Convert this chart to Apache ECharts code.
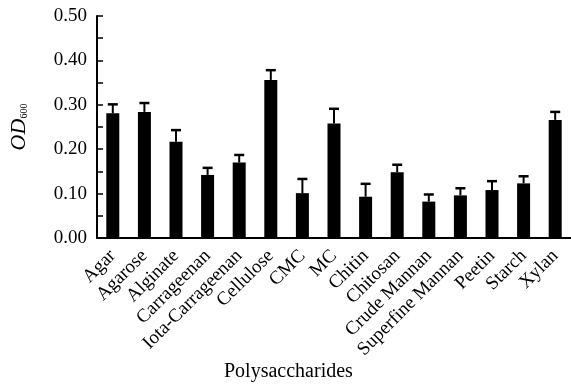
<!DOCTYPE html>
<html><head><meta charset="utf-8">
<script src="https://cdn.jsdelivr.net/npm/echarts@6/dist/echarts.min.js"></script>
<style>html,body{margin:0;padding:0;background:#fff}#c{width:571px;height:385px}</style>
</head><body><div id="c"></div>
<script>
const categories = ['Agar','Agarose','Alginate','Carrageenan','Iota-Carrageenan','Cellulose','CMC','MC','Chitin','Chitosan','Crude Mannan','Superfine Mannan','Peetin','Starch','Xylan'];
const values = [0.281,0.284,0.217,0.142,0.170,0.356,0.101,0.258,0.093,0.148,0.082,0.096,0.108,0.123,0.266];
const errors = [0.020,0.020,0.026,0.016,0.017,0.022,0.032,0.033,0.029,0.017,0.016,0.016,0.020,0.016,0.018];
const yTickLabels = ['0.00', '0.10', '0.20', '0.30', '0.40', '0.50'];

const chart = echarts.init(document.getElementById('c'));
const font = 'Liberation Serif';
chart.setOption({
  animation: false,
  grid: {left: 90, top: 16, width: 483, height: 222},
  xAxis: {
    type: 'category', data: categories,
    axisLine: {lineStyle: {color: '#000', width: 2}},
    axisTick: {show: false},
    axisLabel: {rotate: 45, interval: 0, color: '#000', fontFamily: font, fontSize: 19, margin: 15}
  },
  yAxis: {
    type: 'value', min: 0, max: 0.5, interval: 0.05,
    axisLine: {show: true, lineStyle: {color: '#000', width: 2}},
    axisTick: {show: true, inside: true, length: 6, lineStyle: {color: '#000', width: 1.5}},
    splitLine: {show: false},
    axisLabel: {color: '#000', fontFamily: font, fontSize: 19, margin: 10,
      formatter: v => { const k = Math.round(v * 20); return k % 2 === 0 ? yTickLabels[k / 2] : ''; }},
    name: '{i|OD}{s|600}', nameLocation: 'middle', nameRotate: 90, nameGap: 67,
    nameTextStyle: {rich: {
      i: {fontFamily: font, fontStyle: 'italic', fontSize: 22, color: '#000'},
      s: {fontFamily: font, fontSize: 10, color: '#000', padding: [10, 0, 0, 0]}
    }}
  },
  graphic: [{type: 'text', left: 224, top: 362,
    style: {text: 'Polysaccharides', fontFamily: font, fontSize: 20, fill: '#000'}}],
  series: [
    {type: 'bar', data: values, barWidth: 13, itemStyle: {color: '#000'}},
    {type: 'custom', data: values.map((v, i) => [i, v, errors[i]]), z: 3,
      renderItem: (params, api) => {
        const x = api.value(0), v = api.value(1), e = api.value(2);
        const p0 = api.coord([x, v]);
        const p1 = api.coord([x, v + e]);
        const hw = 5;
        return {type: 'group', children: [
          {type: 'line', shape: {x1: p0[0], y1: p0[1], x2: p1[0], y2: p1[1]}, style: {stroke: '#000', lineWidth: 2}},
          {type: 'line', shape: {x1: p1[0] - hw, y1: p1[1], x2: p1[0] + hw, y2: p1[1]}, style: {stroke: '#000', lineWidth: 2.5}}
        ]};
      }}
  ]
});
</script></body></html>
